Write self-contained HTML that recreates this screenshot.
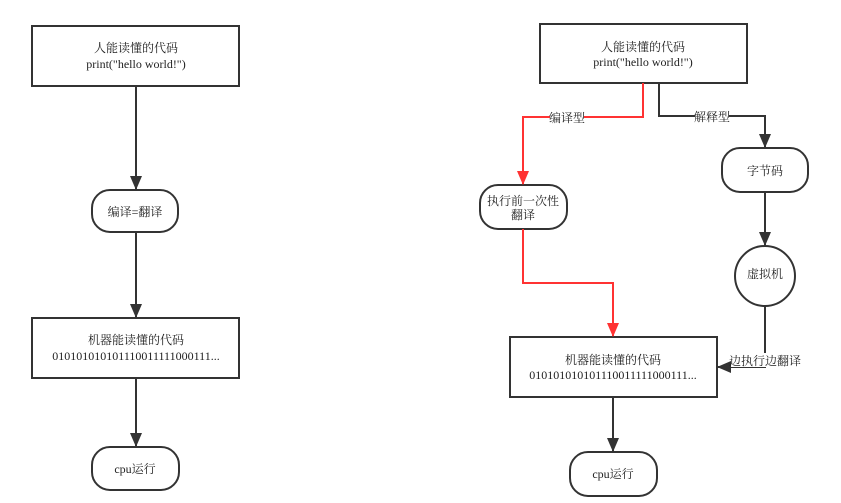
<!DOCTYPE html>
<html><head><meta charset="utf-8"><style>
html,body{margin:0;padding:0;background:#fff;}
svg{display:block;}
text{font-family:"Liberation Serif","Noto Serif CJK SC","Noto Sans CJK SC",serif;font-size:12px;fill:#222;text-anchor:middle;}
</style></head><body>
<svg width="841" height="503" viewBox="0 0 841 503" xmlns="http://www.w3.org/2000/svg">
<defs>
<marker id="ab" markerWidth="14" markerHeight="12" refX="13" refY="6" orient="auto" markerUnits="userSpaceOnUse"><path d="M0,0 L14,6 L0,12 z" fill="#333"/></marker>
<marker id="ar" markerWidth="14" markerHeight="12" refX="13" refY="6" orient="auto" markerUnits="userSpaceOnUse"><path d="M0,0 L14,6 L0,12 z" fill="#f33"/></marker>
</defs>
<g fill="none" stroke="#333" stroke-width="2">
<rect x="32" y="26" width="207" height="60"/>
<rect x="92" y="190" width="86" height="42" rx="18"/>
<rect x="32" y="318" width="207" height="60"/>
<rect x="92" y="447" width="87" height="43" rx="18"/>
<line x1="136" y1="86" x2="136" y2="189" marker-end="url(#ab)"/>
<line x1="136" y1="232" x2="136" y2="317" marker-end="url(#ab)"/>
<line x1="136" y1="378" x2="136" y2="446" marker-end="url(#ab)"/>
<rect x="540" y="24" width="207" height="59"/>
<rect x="722" y="148" width="86" height="44" rx="18"/>
<circle cx="765" cy="276" r="30"/>
<rect x="480" y="185" width="87" height="44" rx="18"/>
<rect x="510" y="337" width="207" height="60"/>
<rect x="570" y="452" width="87" height="44" rx="18"/>
<polyline points="659,83 659,116 765,116 765,147" marker-end="url(#ab)"/>
<line x1="765" y1="192" x2="765" y2="245" marker-end="url(#ab)"/>
<polyline points="765,306 765,367 718,367" marker-end="url(#ab)"/>
<line x1="613" y1="397" x2="613" y2="451" marker-end="url(#ab)"/>
</g>
<g fill="none" stroke="#f33" stroke-width="2">
<polyline points="643,83 643,117 523,117 523,184" marker-end="url(#ar)"/>
<polyline points="523,229 523,283 613,283 613,336" marker-end="url(#ar)"/>
</g>
<rect x="550" y="110" width="34" height="14" fill="#fff"/>
<rect x="695" y="109" width="34" height="14" fill="#fff"/>
<rect x="731" y="353" width="68" height="14" fill="#fff"/>
<text x="136" y="52">人能读懂的代码</text>
<text x="136" y="68">print("hello world!")</text>
<text x="135" y="216">编译=翻译</text>
<text x="136" y="344">机器能读懂的代码</text>
<text x="136" y="360">0101010101011100111110001​11...</text>
<text x="135" y="473">cpu运行</text>
<text x="643" y="51">人能读懂的代码</text>
<text x="643" y="66">print("hello world!")</text>
<text x="567" y="122">编译型</text>
<text x="712" y="121">解释型</text>
<text x="765" y="175">字节码</text>
<text x="765" y="278">虚拟机</text>
<text x="523" y="205">执行前一次性</text>
<text x="523" y="219">翻译</text>
<text x="613" y="364">机器能读懂的代码</text>
<text x="613" y="379">0101010101011100111110001​11...</text>
<text x="765" y="365">边执行边翻译</text>
<text x="613" y="478">cpu运行</text>
</svg>
</body></html>
